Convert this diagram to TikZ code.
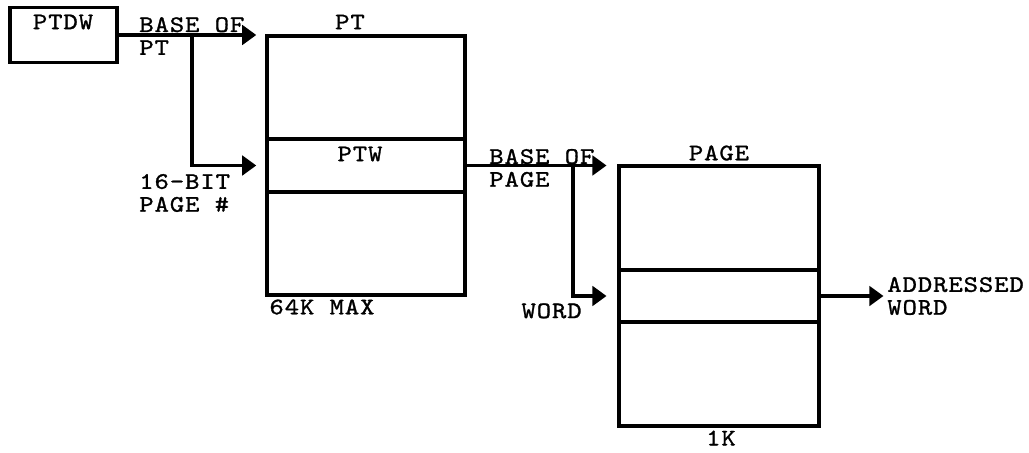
\documentclass[tikz,border=0pt]{standalone}
\usepackage{fontspec}
\setmonofont{lmmono10-regular.otf}[FakeStretch=1.15,LetterSpace=4,FakeBold=1.2]
\usetikzlibrary{arrows.meta,positioning}
\tikzset{
  memblk/.style={draw,line width=2.2pt,inner sep=0pt},
  lbl/.style={font=\ttfamily\fontsize{13.5}{13}\selectfont,inner sep=0pt,align=left},
  ptr/.style={-{Triangle[length=8pt,width=11pt]},line width=2.2pt},
}

\begin{document}
\begin{tikzpicture}[x=0.02cm,y=-0.02cm]
\useasboundingbox (0,0) rectangle (1029,453);
% descriptor word
\node[memblk,minimum width=2.14cm,minimum height=1.1cm] (ptdw) at (63.5,35) {};
\node[lbl] (ptdwtxt) at (63,22) {PTDW};
% page table
\node[memblk,minimum width=3.96cm,minimum height=5.18cm] (pt) at (366,165.5) {};
\node[memblk,minimum width=3.96cm,minimum height=1.06cm] (ptw) at (pt.center) {};
\node[lbl] (pttitle) at (350,22) {PT};
\node[lbl] (ptwtxt) at (360,154) {PTW};
\node[lbl] (ptsize) at (322,307) {64K MAX};
% page
\node[memblk,minimum width=4cm,minimum height=5.2cm] (page) at (719,296) {};
\node[memblk,minimum width=4cm,minimum height=1.04cm] (wrd) at (page.center) {};
\node[lbl] (pagetitle) at (719,153) {PAGE};
\node[lbl] (pagesize) at (721,438) {1K};
% labels on the pointers
\node[lbl,anchor=west] (baseofpt) at (139,36) {BASE OF\\PT};
\node[lbl,anchor=west] (pagenum) at (139,193) {16-BIT\\PAGE \#};
\node[lbl,anchor=west] (baseofpage) at (489,168) {BASE OF\\PAGE};
\node[lbl,anchor=north east] (wordin) at (582,303) {WORD};
\node[lbl,anchor=west] (addr) at (887,296) {ADDRESSED\\WORD};
% pointers
\coordinate (br1) at (192,35);
\coordinate (br2) at (573,165.5);
\draw[ptr,shorten >=5pt] (ptdw.east) -- (ptdw.east -| pt.west);
\draw[ptr,shorten >=5pt] (br1) |- (ptw.west);
\draw[ptr,shorten >=6pt] (ptw.east) -- (ptw.east -| page.west);
\draw[ptr,shorten >=6pt] (br2) |- (wrd.west);
\draw[ptr,shorten >=2pt] (wrd.east) -- (addr.west);
\end{tikzpicture}
\end{document}
